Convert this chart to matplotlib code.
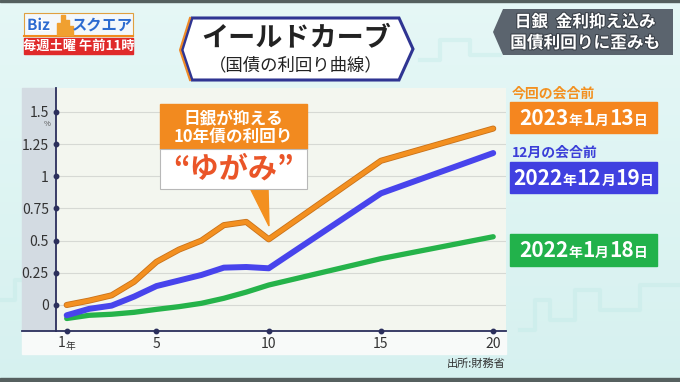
import matplotlib
matplotlib.use('Agg')
import matplotlib.pyplot as plt
import matplotlib.patheffects as pe
from matplotlib.patches import Polygon, Rectangle
from matplotlib.transforms import blended_transform_factory
import numpy as np

plt.rcParams['font.family'] = ['Noto Sans CJK JP', 'DejaVu Sans']

# 残存年数と利回り(%)
nen = [1, 2, 3, 4, 5, 6, 7, 8, 9, 10, 15, 20]
y_2023_0113 = [0.0, 0.034, 0.075, 0.18, 0.335, 0.43, 0.50, 0.62, 0.645, 0.51, 1.12, 1.37]
y_2022_1219 = [-0.08, -0.03, -0.005, 0.065, 0.147, 0.19, 0.233, 0.29, 0.295, 0.285, 0.867, 1.18]
y_2022_0118 = [-0.105, -0.08, -0.072, -0.057, -0.034, -0.013, 0.013, 0.052, 0.10, 0.155, 0.36, 0.53]

yticks = [0, 0.25, 0.5, 0.75, 1, 1.25, 1.5]
ytick_labels = ['0', '0.25', '0.5', '0.75', '1', '1.25', '1.5']
xticks = [1, 5, 10, 15, 20]
xtick_labels = ['', '5', '10', '15', '20']

ORANGE = '#f39020'
BLUE = '#4844ec'
GREEN = '#25b34a'
NAVY = '#2b2f5c'

fig = plt.figure(figsize=(6.8, 3.82), dpi=100)


def pixel_axes(z):
    a = fig.add_axes([0, 0, 1, 1], zorder=z)
    a.set_xlim(0, 680)
    a.set_ylim(382, 0)
    a.axis('off')
    a.patch.set_alpha(0)
    return a


# 背景(ピクセル座標)
bg = pixel_axes(0)
top_c = np.array([0.90, 0.97, 0.965])
bot_c = np.array([0.84, 0.945, 0.94])
t = np.linspace(0, 1, 100)[:, None, None]
grad = top_c * (1 - t) + bot_c * t
grad = np.repeat(grad, 2, axis=1)
bg.imshow(grad, extent=[0, 680, 382, 0], aspect='auto', zorder=0)
# うっすらした街並み模様
for xs, ys in [([0, 15, 15, 30, 30, 45, 45, 60], [300, 300, 280, 280, 295, 295, 270, 270]),
               ([520, 535, 535, 550, 550, 575, 575, 600, 600, 640, 640, 680],
                [330, 330, 300, 300, 320, 320, 290, 290, 310, 310, 285, 285]),
               ([420, 440, 440, 470, 470, 500], [60, 60, 40, 40, 55, 55])]:
    bg.plot(xs, ys, color='#c4ebe8', lw=3, alpha=0.45, zorder=1)
bg.add_patch(Rectangle((0, 0), 680, 2, color='#55605f', zorder=2))
bg.add_patch(Rectangle((0, 378), 680, 4, color='#56605f', zorder=2))

# ロゴ
bg.add_patch(Rectangle((24, 13), 109, 23, facecolor='#f4f8fb', edgecolor='#e0a040', lw=0.8, zorder=3))
bg.plot([24, 133], [36, 36], color='#f08a1e', lw=1.5, zorder=4)
bg.text(27, 25, 'Biz', fontsize=11, weight='bold', color='#2c6bd0', va='center', zorder=5,
        path_effects=[pe.withStroke(linewidth=1.5, foreground='white')])
for bx, bh in [(57, 12), (61, 20), (65, 15), (69, 9)]:
    bg.add_patch(Rectangle((bx, 35 - bh), 3.6, bh, color='#f0a030', zorder=4))
bg.text(102, 25, 'スクエア', fontsize=11, weight='bold', color='#2c6bd0', ha='center', va='center', zorder=5)
bg.add_patch(Rectangle((24, 38), 109, 16, color='#e02a2a', zorder=3))
bg.text(78.5, 46, '毎週土曜 午前11時', fontsize=9.5, weight='bold', color='white',
        ha='center', va='center', zorder=5)

# タイトル
title_pts = [(182, 50), (192, 18), (399, 18), (413, 49), (399, 80), (192, 80)]
bg.add_patch(Polygon(title_pts, closed=True, facecolor='white', edgecolor='#2f3592', lw=2.2, zorder=3))
bg.plot([190, 180, 190], [18, 50, 80], color='#ef8a26', lw=1.5, zorder=3)
bg.text(296, 38, 'イールドカーブ', fontsize=19.5, weight='bold', color='#222222',
        ha='center', va='center', zorder=5)
bg.text(296, 65, '（国債の利回り曲線）', fontsize=12.5, color='#222222',
        ha='center', va='center', zorder=5)

# 右上の見出し
bg.add_patch(Polygon([(493, 32), (503, 9), (673, 9), (673, 55), (503, 55)], closed=True,
                     facecolor='#5b646e', edgecolor='none', zorder=3))
for yy, s in [(22, '日銀  金利抑え込み'), (43, '国債利回りに歪みも')]:
    bg.text(585, yy, s, fontsize=12, weight='bold', color='white', ha='center', va='center', zorder=5,
            path_effects=[pe.withStroke(linewidth=1.5, foreground='#3a4048')])

# グラフのパネル
bg.add_patch(Rectangle((22, 88), 34, 243, color='#d3dbe2', zorder=2))
bg.add_patch(Rectangle((22, 331), 484, 23, color='#f8faf9', zorder=2))
bg.plot([22, 56], [331, 331], color=NAVY, lw=1.3, zorder=6)
bg.text(505, 364, '出所:財務省', fontsize=8, color='#333333', ha='right', va='center', zorder=5)
bg.text(47, 124, '%', fontsize=5.5, color='#555555', ha='center', va='center', zorder=5)

ax = fig.add_axes([55.7 / 680, 51 / 382, 450.3 / 680, 243 / 382], zorder=5)
ax.set_facecolor('#f3f6ef')
ax.set_xlim(0.51, 20.57)
ax.set_ylim(-0.202, 1.685)
for side in ['top', 'right']:
    ax.spines[side].set_visible(False)
for side in ['left', 'bottom']:
    ax.spines[side].set_color(NAVY)
    ax.spines[side].set_linewidth(1.3)
ax.set_yticks(yticks)
ax.set_yticklabels(ytick_labels)
ax.set_xticks(xticks)
ax.set_xticklabels(xtick_labels)
ax.tick_params(length=0, labelsize=10, labelcolor='#333333')
ax.tick_params(axis='y', pad=5)
ax.tick_params(axis='x', pad=4)
ax.grid(axis='y', color='#d6d9d4', lw=0.8)
ax.set_axisbelow(True)
ax.plot(xticks, [ax.get_ylim()[0]] * len(xticks), 'o', ms=3.2, color=NAVY, clip_on=False, zorder=6)
ax.plot([ax.get_xlim()[0]] * len(yticks), yticks, 'o', ms=3.2, color=NAVY, clip_on=False, zorder=6)
tr = blended_transform_factory(ax.transData, ax.transAxes)
ax.text(0.95, -0.05, '1', transform=tr, fontsize=10, color='#333333', ha='right', va='center')
ax.text(0.95, -0.06, '年', transform=tr, fontsize=7, color='#333333', ha='left', va='center')

ax.plot(nen, y_2022_0118, color=GREEN, lw=3.8, solid_capstyle='round', solid_joinstyle='round', zorder=3)
ax.plot(nen, y_2022_1219, color=BLUE, lw=4.3, solid_capstyle='round', solid_joinstyle='round', zorder=4)
ax.plot(nen, y_2023_0113, color=ORANGE, lw=3.2, solid_capstyle='round', solid_joinstyle='round', zorder=5,
        path_effects=[pe.Stroke(linewidth=4.4, foreground='#c9721a'), pe.Normal()])

# 前面(吹き出しと凡例)
fg = pixel_axes(10)
fg.add_patch(Polygon([(250, 188), (268, 188), (269, 226)], closed=True, color=ORANGE, zorder=7))
fg.add_patch(Rectangle((160, 104), 147, 45, color='#f28a1f', zorder=7))
fg.add_patch(Rectangle((160, 149), 147, 40, facecolor='white', edgecolor='#b8b8b8', lw=0.8, zorder=7))
fg.text(233.5, 119, '日銀が抑える', fontsize=12, weight='bold', color='white', ha='center', va='center', zorder=8)
fg.text(233.5, 137, '10年債の利回り', fontsize=12, weight='bold', color='white', ha='center', va='center', zorder=8)
fg.text(233.5, 169, '“ゆがみ”', fontsize=21, weight='bold', color='#ea5528', ha='center', va='center', zorder=8)

fig.canvas.draw()
rend = fig.canvas.get_renderer()


def put_parts(xc, ybase, parts, color):
    objs = []
    for s, sz in parts:
        objs.append(fg.text(0, ybase, s, fontsize=sz, weight='bold', color=color,
                            ha='left', va='baseline', zorder=9))
    ws = [o.get_window_extent(renderer=rend).width for o in objs]
    x = xc - sum(ws) / 2
    for o, w in zip(objs, ws):
        o.set_x(x)
        x += w


legend = [
    (ORANGE, '#f5861f', 101.7, '今回の会合前', [('2023', 15), ('年', 10), ('1', 15), ('月', 10), ('13', 15), ('日', 10)]),
    ('#3b3fd8', '#4040e0', 161.7, '12月の会合前', [('2022', 15), ('年', 10), ('12', 15), ('月', 10), ('19', 15), ('日', 10)]),
    (GREEN, '#22b24b', 234, None, [('2022', 15), ('年', 10), ('1', 15), ('月', 10), ('18', 15), ('日', 10)]),
]
for tcol, bcol, by, cap, parts in legend:
    fg.add_patch(Rectangle((510, by), 147, 31.6, color=bcol, zorder=7))
    if cap:
        fg.text(512, by - 8.5, cap, fontsize=10, weight='bold', color=tcol, ha='left', va='center', zorder=8)
    put_parts(583.5, by + 23, parts, 'white')

fig.savefig('out.png', dpi=100)
